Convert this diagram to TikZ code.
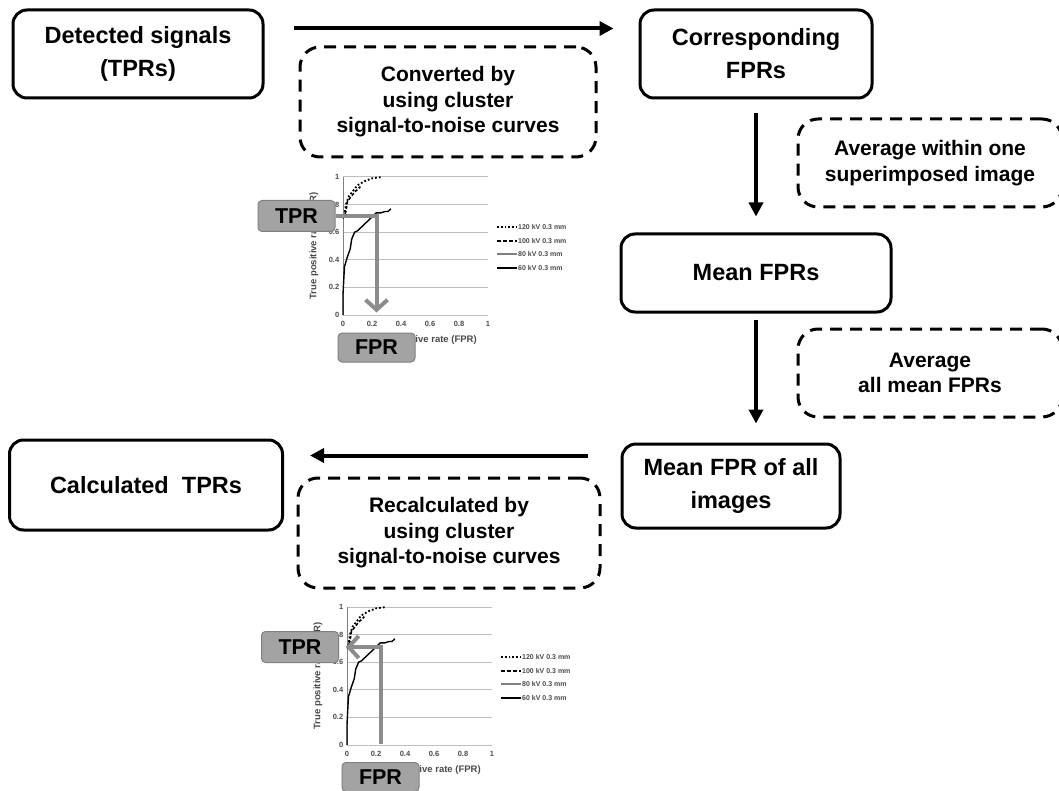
\documentclass[tikz,border=0pt]{standalone}
\usepackage{fontspec}
\setmainfont{Liberation Sans}
\usetikzlibrary{arrows.meta,calc}

\definecolor{tagfill}{HTML}{A3A3A3}
\definecolor{pickgray}{HTML}{8C8C8C}
\definecolor{gridgray}{HTML}{BEBEBE}
\definecolor{labelgray}{HTML}{4A4A4A}

% small roc chart, origin given in picture pixels
\newcommand\rocplot[1]{%
\begin{scope}[shift={#1},x=145pt,y=138pt]
\foreach \v in {0.2,0.4,0.6,0.8,1}
  \draw[gridline] (0,\v) -- (1,\v);
\draw[gridline] (0,0) -- (1,0);
\draw[line width=0.8pt,gray] (0,0) -- (0,1);
\foreach \v in {0,0.2,0.4,0.6,0.8,1}
  \node[ticklabel,anchor=east] at (-0.025,\v) {\v};
\foreach \v in {0,0.2,0.4,0.6,0.8,1}
  \node[ticklabel] at (\v,-0.065) {\v};
\node[axislabel,rotate=90] at (-0.2,0.5) {True positive rate (TPR)};
\node[axislabel] at (0.54,-0.18) {False positive rate (FPR)};
% curves
\draw[line width=1.8pt,dotted] (0.01,0.72) -- (0.02,0.8) -- (0.04,0.86) -- (0.07,0.9)
  -- (0.1,0.94) -- (0.15,0.97) -- (0.2,0.99) -- (0.27,1);
\draw[line width=1.6pt,dash pattern=on 3pt off 2pt] (0,0.7) -- (0.02,0.75) -- (0.03,0.82)
  -- (0.05,0.85) -- (0.08,0.89) -- (0.12,0.93);
\draw[line width=1.4pt] (0,0) -- (0,0.15) -- (0.01,0.35) -- (0.03,0.42) -- (0.05,0.48)
  -- (0.06,0.55) -- (0.08,0.6) -- (0.1,0.61) -- (0.13,0.64) -- (0.16,0.67) -- (0.19,0.7)
  -- (0.21,0.72) -- (0.23,0.74) -- (0.26,0.74) -- (0.29,0.75) -- (0.31,0.75) -- (0.33,0.77);
% legend
\draw[line width=1.8pt,dotted] (1.062,0.638) -- (1.2,0.638);
\draw[line width=1.8pt,dash pattern=on 4pt off 2pt] (1.062,0.536) -- (1.2,0.536);
\draw[line width=1.8pt,gray] (1.062,0.442) -- (1.2,0.442);
\draw[line width=1.8pt] (1.062,0.341) -- (1.2,0.341);
\node[legendlabel] at (1.2,0.638) {120 kV 0.3 mm};
\node[legendlabel] at (1.2,0.536) {100 kV 0.3 mm};
\node[legendlabel] at (1.2,0.442) {80 kV 0.3 mm};
\node[legendlabel] at (1.2,0.341) {60 kV 0.3 mm};
\end{scope}}

\begin{document}
\begin{tikzpicture}[x=1pt,y=-1pt,
  stagebox/.style={draw=black,line width=3pt,rounded corners=14pt,align=center,
    font=\fontsize{23.5}{33}\selectfont\bfseries},
  notebox/.style={draw=black,line width=3pt,dash pattern=on 12pt off 8pt,
    rounded corners=20pt,align=center,font=\fontsize{21}{25.5}\selectfont\bfseries},
  flow/.style={line width=4pt,-{Triangle[length=14pt,width=14pt]}},
  tag/.style={draw=gray,fill=tagfill,rounded corners=4pt,line width=1pt,
    minimum width=77pt,minimum height=31pt,inner sep=0pt,
    font=\fontsize{21.5}{22}\selectfont\bfseries},
  pick/.style={draw=pickgray,line width=4pt,-{Straight Barb[length=10pt,width=22pt]}},
  gridline/.style={gridgray,line width=1pt},
  ticklabel/.style={inner sep=0pt,text=labelgray,font=\fontsize{7.5}{8}\selectfont\bfseries},
  axislabel/.style={inner sep=0pt,text=labelgray,font=\fontsize{9.5}{10}\selectfont\bfseries},
  legendlabel/.style={anchor=west,inner sep=1pt,text=labelgray,
    font=\fontsize{7}{8}\selectfont\bfseries}]
\useasboundingbox (0,0) rectangle (1059,791);
\clip (0,0) rectangle (1059,791);

% main boxes
\node[stagebox,minimum width=250pt,minimum height=88pt] (det) at (138,54) {Detected signals\\(TPRs)};
\node[stagebox,minimum width=232pt,minimum height=88pt] (corr) at (756,54) {Corresponding\\FPRs};
\node[stagebox,minimum width=270pt,minimum height=78pt] (mean) at (756,273) {Mean FPRs};
\node[stagebox,minimum width=218pt,minimum height=84pt] (meanall) at (731,486) {Mean FPR of all\\images};
\node[stagebox,minimum width=273pt,minimum height=90pt] (calc) at (146,485) {Calculated\ \ TPRs};

% dashed notes
\node[notebox,minimum width=296pt,minimum height=110pt] (conv) at (448,102)
  {Converted by\\using cluster\\signal-to-noise curves};
\node[notebox,minimum width=264pt,minimum height=88pt] (avgone) at (930,163)
  {Average within one\\superimposed image};
\node[notebox,minimum width=264pt,minimum height=88pt] (avgall) at (930,373)
  {Average\\all mean FPRs};
\node[notebox,minimum width=302pt,minimum height=110pt] (recalc) at (449,533)
  {Recalculated by\\using cluster\\signal-to-noise curves};

% arrows
\draw[flow] ($(det.north east)+(29,20)$) -- ($(corr.north west)+(-25,20)$);
\draw[flow,shorten <=14pt,shorten >=16pt] (corr.south) -- (mean.north);
\draw[flow,shorten <=6pt,shorten >=19pt] (mean.south) -- (mean.south |- meanall.north);
\draw[flow] ($(meanall.north west)+(-33,13)$) -- ($(calc.north east)+(26,17)$);

% charts
\rocplot{(343,315)}
\rocplot{(347,745)}

\node[tag] (tpra) at (296.5,216) {TPR};
\node[tag,minimum height=29pt] (fpra) at (376.5,347.5) {FPR};
\node[tag] (tprb) at (300,647) {TPR};
\node[tag,minimum height=29pt] (fprb) at (380.5,777) {FPR};

\draw[pick,shorten >=20pt] (tpra.east) -| (fpra.north);
\draw[pick,shorten <=18pt,shorten >=7pt] (fprb.north) |- (tprb.east);
\end{tikzpicture}
\end{document}
